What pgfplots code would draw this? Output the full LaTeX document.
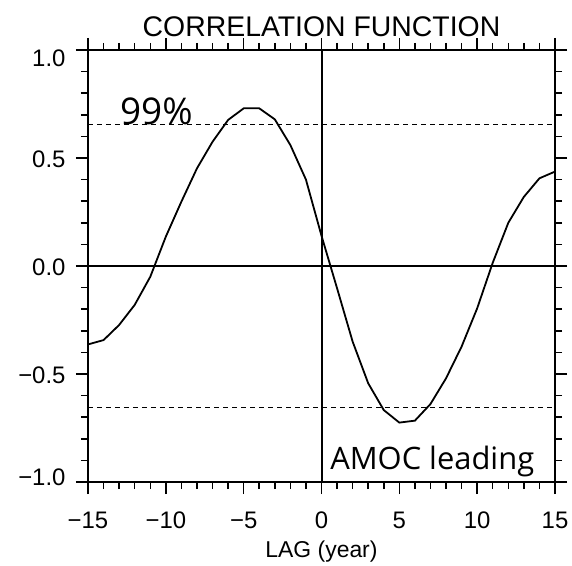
\documentclass[border=0pt]{standalone}
\usepackage{fontspec}
\setmainfont{Liberation Sans}
\newfontfamily\annot{Open Sans}
\usepackage{pgfplots}
\pgfplotsset{compat=1.18}
\newcommand{\ylab}[2]{\raisebox{#1}[\height][\depth]{#2}}
\begin{document}
\begin{tikzpicture}
\begin{axis}[
  scale only axis, width=467bp, height=432bp,
  xmin=-15, xmax=15, ymin=-1, ymax=1,
  clip=false,
  xtick={-15,-10,-5,0,5,10,15},
  xticklabels={−15,−10,−5,0,5,10,15},
  ytick={-1,-0.5,0,0.5,1},
  yticklabels={\ylab{5bp}{−1.0},\ylab{-1.5bp}{−0.5},\ylab{-1.5bp}{0.0},\ylab{-1.5bp}{0.5},\ylab{-8.5bp}{1.0}},
  minor x tick num=4, minor y tick num=4,
  tick align=outside,
  major tick length=12bp, minor tick length=7bp,
  every tick/.style={black, line width=1.5bp},
  axis line style={line width=2.2bp},
  xticklabel style={font=\fontsize{24}{24}\selectfont, anchor=base, yshift=-34bp},
  yticklabel style={font=\fontsize{24}{24}\selectfont, anchor=east, xshift=-7bp},
]
\coordinate (SW) at (rel axis cs:0,0);
\draw[line width=2bp] (axis cs:-15,0) -- (axis cs:15,0);
\draw[line width=2bp] (axis cs:0,-1) -- (axis cs:0,1);
\addplot[black, line width=1.5bp, dash pattern=on 5bp off 4bp, forget plot] coordinates {(-15,0.656) (15,0.656)};
\addplot[black, line width=1.5bp, dash pattern=on 5bp off 4bp, forget plot] coordinates {(-15,-0.656) (15,-0.656)};
\addplot[black, line width=1.8bp, mark=none] coordinates {
(-15,-0.363) (-14,-0.343) (-13,-0.273) (-12,-0.180) (-11,-0.050)
(-10,0.136) (-9,0.298) (-8,0.452) (-7,0.575) (-6,0.676)
(-5,0.730) (-4,0.730) (-3,0.679) (-2,0.560) (-1,0.400)
(0,0.140) (1,-0.103) (2,-0.350) (3,-0.543) (4,-0.667)
(5,-0.725) (6,-0.716) (7,-0.639) (8,-0.520) (9,-0.373)
(10,-0.196) (11,0.015) (12,0.200) (13,0.320) (14,0.406) (15,0.437)
};
\node[anchor=base, inner sep=0pt, font=\fontsize{28.5}{28.5}\selectfont] at (rel axis cs:0.5,1) [yshift=13bp] {CORRELATION FUNCTION};
\node[anchor=base, inner sep=0pt, font=\fontsize{23}{23}\selectfont] at (rel axis cs:0.5,0) [yshift=-75.5bp] {LAG (year)};
\node[anchor=base west, inner sep=0pt, font=\annot\fontsize{37}{37}\selectfont] at (axis cs:-12.95,0.656) {99\%};
\node[anchor=base west, inner sep=0pt, font=\annot\fontsize{31}{31}\selectfont] at (axis cs:0.55,-0.944) {AMOC leading};
\end{axis}
\pgfresetboundingbox
\path[use as bounding box] (SW) ++(-88bp,-84bp) rectangle ++(572bp,566bp);
\end{tikzpicture}
\end{document}
